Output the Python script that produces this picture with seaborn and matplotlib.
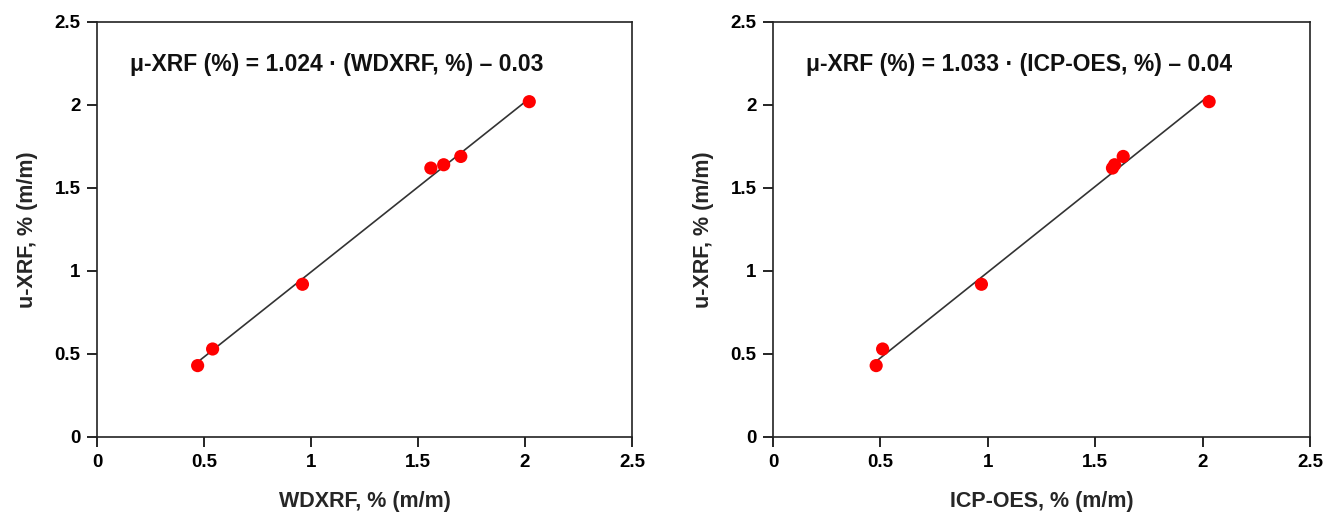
import matplotlib
matplotlib.use("Agg")
import matplotlib.pyplot as plt
import numpy as np
import pandas as pd
import seaborn as sns

# μ-XRF results compared with two reference methods
uxrf = [0.43, 0.53, 0.92, 1.62, 1.64, 1.69, 2.02]
wdxrf = [0.47, 0.54, 0.96, 1.56, 1.62, 1.70, 2.02]
icpoes = [0.48, 0.51, 0.97, 1.58, 1.59, 1.63, 2.03]

# Regression coefficients (slope, intercept) for each comparison
fit_wdxrf = (1.024, -0.03)
fit_icpoes = (1.033, -0.04)

tick_values = [0, 0.5, 1, 1.5, 2, 2.5]
tick_labels = ["0", "0.5", "1", "1.5", "2", "2.5"]

sns.set_style("ticks")
plt.rcParams["font.family"] = ["Liberation Sans", "DejaVu Sans"]
plt.rcParams["font.weight"] = "bold"

fig = plt.figure(figsize=(13.26, 5.15), dpi=100)
ax1 = fig.add_axes([0.0732, 0.1515, 0.4034, 0.8058])
ax2 = fig.add_axes([0.5830, 0.1515, 0.4050, 0.8058])

panels = [
    (ax1, wdxrf, fit_wdxrf, "WDXRF, % (m/m)", "WDXRF"),
    (ax2, icpoes, fit_icpoes, "ICP-OES, % (m/m)", "ICP-OES"),
]

for ax, ref, (slope, icpt), xlabel, name in panels:
    df = pd.DataFrame({"ref": ref, "uxrf": uxrf})
    xs = np.array([min(ref), max(ref)])
    line_df = pd.DataFrame({"ref": xs, "fit": slope * xs + icpt})
    sns.lineplot(data=line_df, x="ref", y="fit", ax=ax, color="#333333",
                 linewidth=1.2, zorder=2)
    sns.scatterplot(data=df, x="ref", y="uxrf", ax=ax, color="#ff0000",
                    s=90, edgecolor="none", zorder=3)

    ax.set_xlim(0, 2.5)
    ax.set_ylim(0, 2.5)
    ax.set_xticks(tick_values)
    ax.set_xticklabels(tick_labels)
    ax.set_yticks(tick_values)
    ax.set_yticklabels(tick_labels)
    ax.tick_params(axis="both", direction="out", length=7, width=1.2,
                   labelsize=13.5, colors="black", pad=5)
    for lab in ax.get_xticklabels() + ax.get_yticklabels():
        lab.set_fontweight("bold")
    for sp in ax.spines.values():
        sp.set_visible(True)
        sp.set_color("#222222")
        sp.set_linewidth(1.2)

    ax.set_xlabel(xlabel, fontsize=15.5, fontweight="bold", labelpad=15)
    ax.set_ylabel("u-XRF, % (m/m)", fontsize=15.5, fontweight="bold", labelpad=12)

    sign = "\u2013" if icpt < 0 else "+"
    eq = f"\u03bc-XRF (%) = {slope:.3f} \u00b7 ({name}, %) {sign} {abs(icpt):.2f}"
    ax.text(0.155, 2.245, eq, fontsize=16.5, fontweight="bold", ha="left",
            va="center", color="#111111")

fig.savefig("out.png", dpi=100)
